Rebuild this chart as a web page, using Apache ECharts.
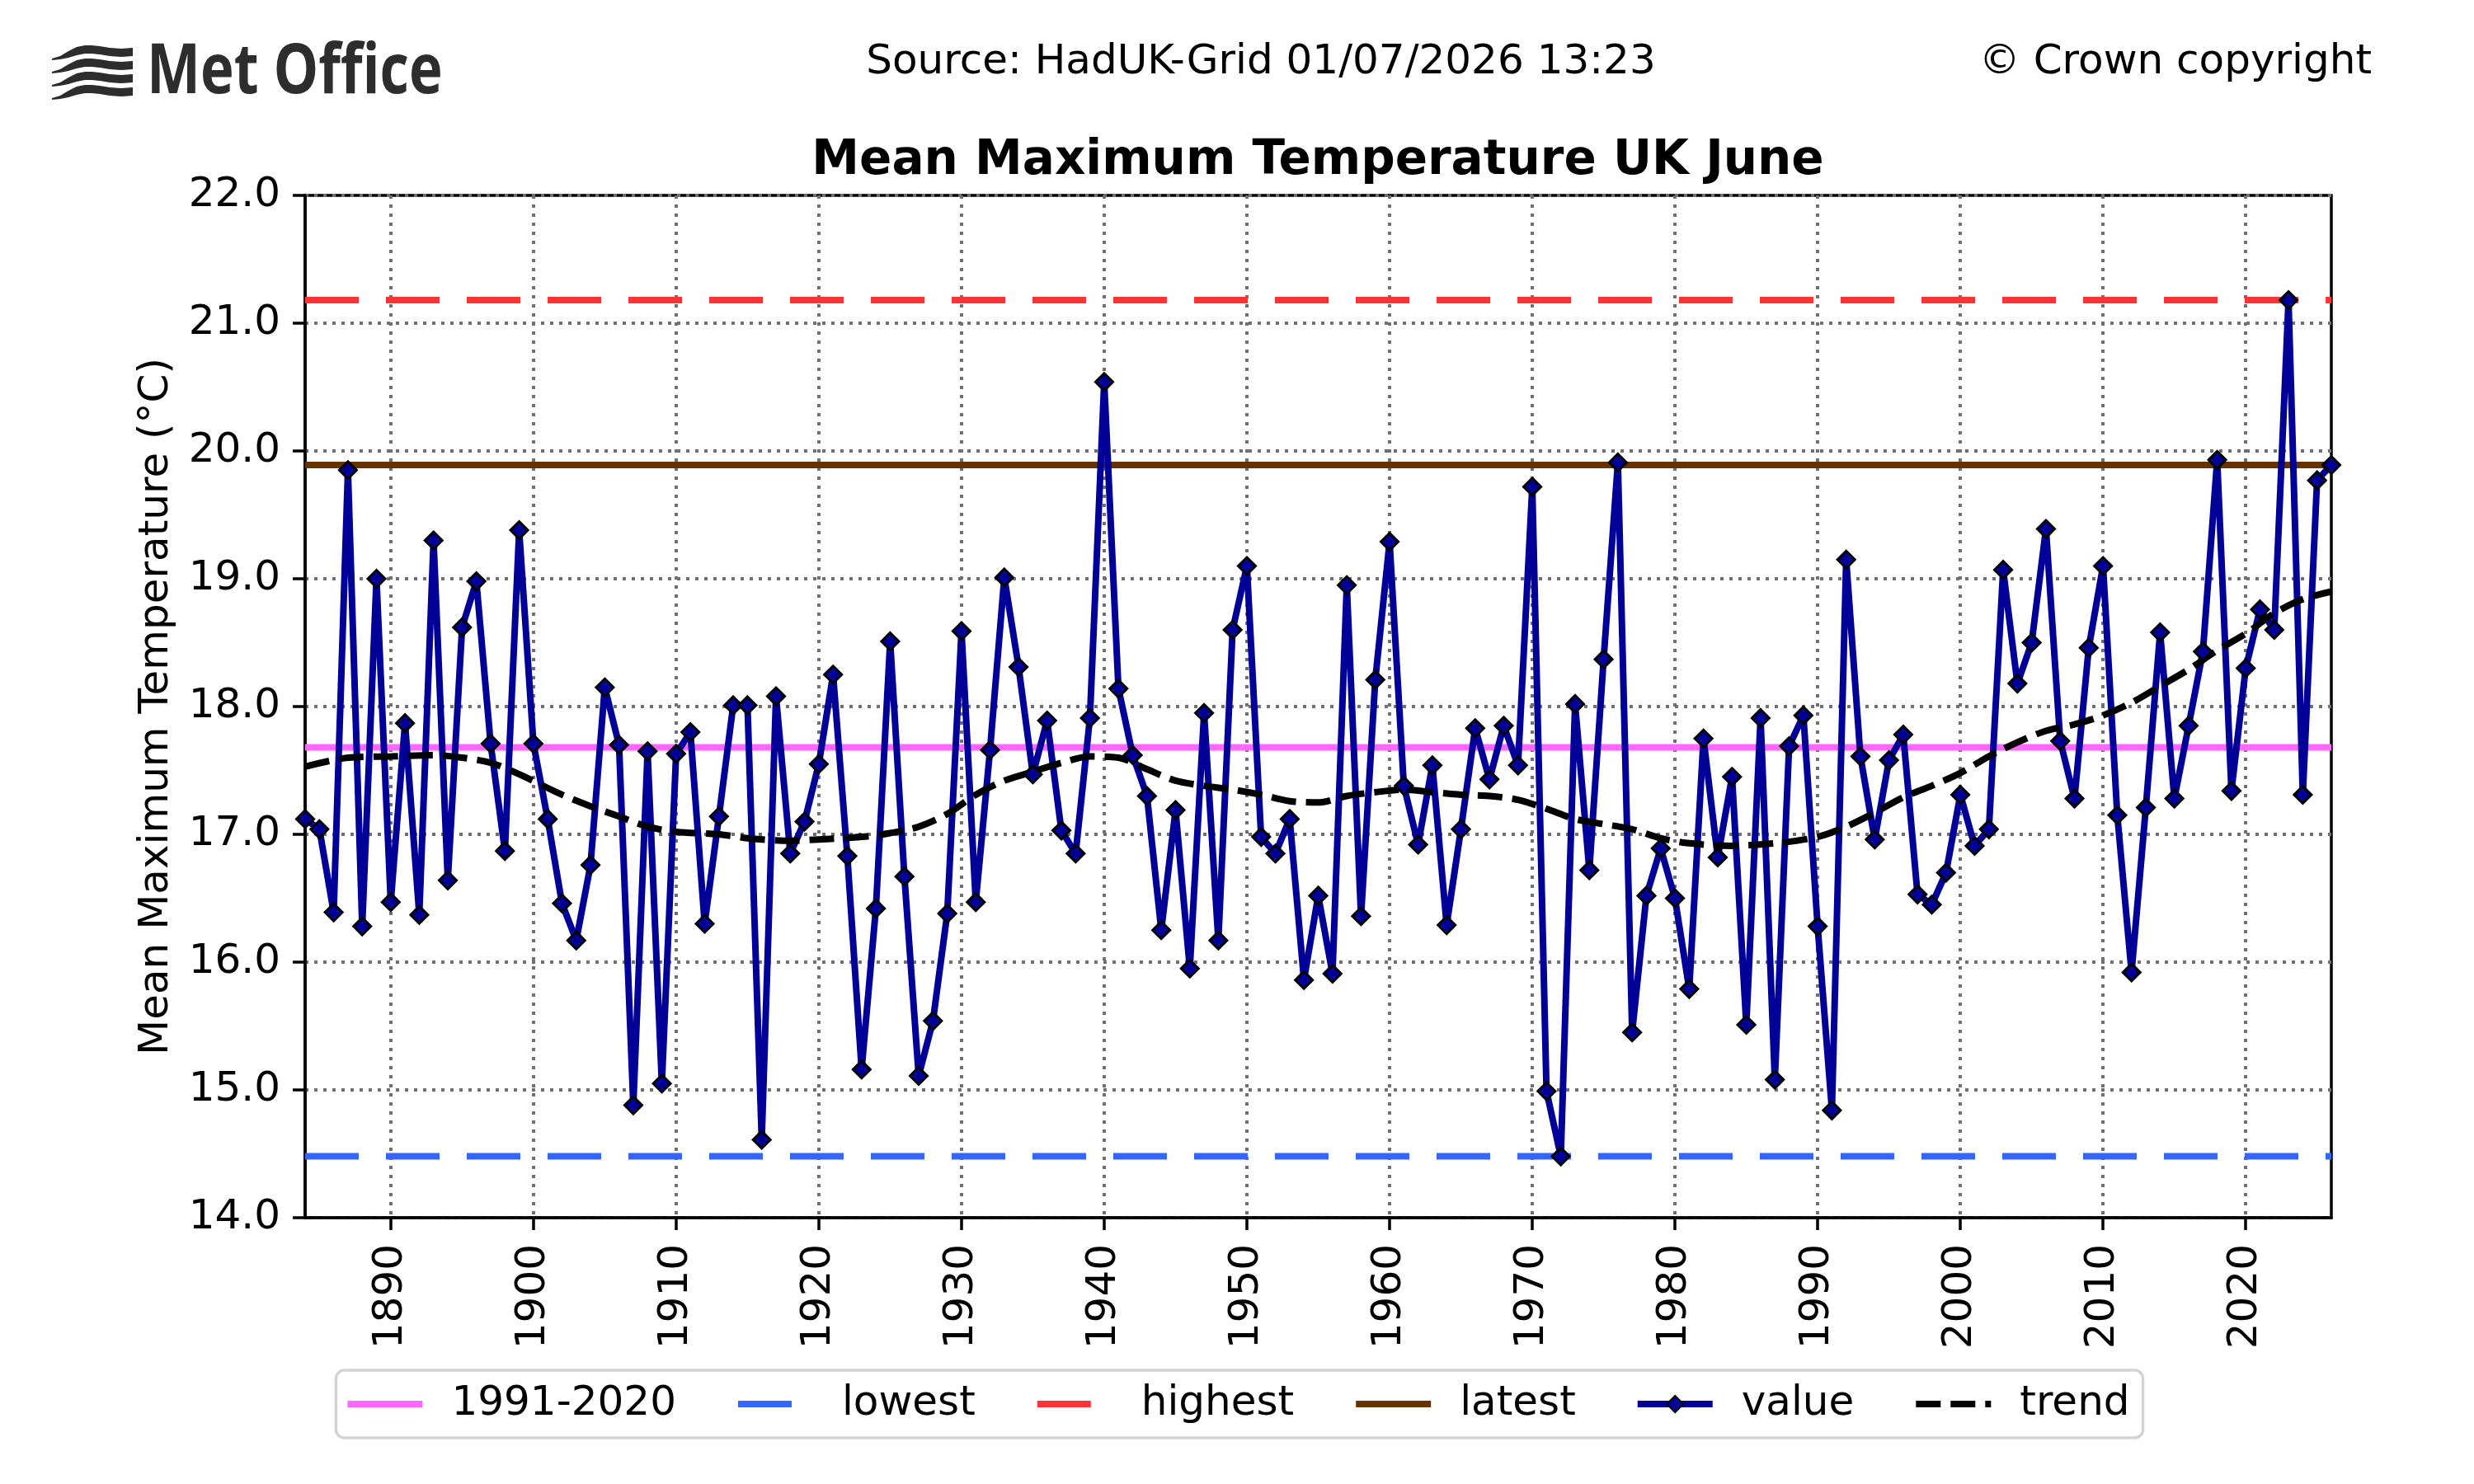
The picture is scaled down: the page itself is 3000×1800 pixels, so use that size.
<!DOCTYPE html>
<html>
<head>
<meta charset="utf-8">
<title>Mean Maximum Temperature UK June</title>
<script src="https://cdn.jsdelivr.net/npm/echarts@6/dist/echarts.min.js"></script>
<style>
  html, body { margin: 0; padding: 0; background: #fff; }
  #chart { width: 3000px; height: 1800px; }
</style>
</head>
<body>
<div id="chart"></div>
<script>
// June mean max temperature, UK, one value per year from 1884
const firstYear = 1884;
const values = [
  17.12, 17.04, 16.39, 19.85, 16.28, 19.00,                         // 1884-1889
  16.47, 17.87, 16.37, 19.30, 16.64, 18.62, 18.98, 17.71, 16.87, 19.38, // 1890s
  17.71, 17.12, 16.46, 16.17, 16.76, 18.15, 17.70, 14.88, 17.65, 15.05, // 1900s
  17.63, 17.80, 16.30, 17.14, 18.01, 18.01, 14.61, 18.08, 16.85, 17.10, // 1910s
  17.55, 18.25, 16.83, 15.16, 16.42, 18.51, 16.67, 15.11, 15.54, 16.38, // 1920s
  18.59, 16.47, 17.66, 19.01, 18.31, 17.47, 17.89, 17.03, 16.85, 17.91, // 1930s
  20.54, 18.14, 17.62, 17.30, 16.25, 17.19, 15.95, 17.95, 16.17, 18.60, // 1940s
  19.10, 16.98, 16.85, 17.12, 15.86, 16.52, 15.91, 18.95, 16.36, 18.21, // 1950s
  19.29, 17.38, 16.92, 17.54, 16.29, 17.04, 17.83, 17.43, 17.85, 17.54, // 1960s
  19.72, 14.99, 14.48, 18.02, 16.72, 18.37, 19.91, 15.45, 16.52, 16.89, // 1970s
  16.50, 15.79, 17.75, 16.82, 17.45, 15.51, 17.91, 15.08, 17.69, 17.93, // 1980s
  16.28, 14.84, 19.15, 17.61, 16.96, 17.58, 17.78, 16.53, 16.45, 16.70, // 1990s
  17.31, 16.91, 17.04, 19.07, 18.18, 18.50, 19.39, 17.73, 17.28, 18.46, // 2000s
  19.10, 17.15, 15.92, 17.21, 18.58, 17.28, 17.85, 18.43, 19.93, 17.34, // 2010s
  18.30, 18.76, 18.60, 21.18, 17.31, 19.77, 19.89                       // 2020-2026
];

// smoothed trend
const trendYears = [1884, 1887, 1890, 1893, 1895, 1897, 1899, 1902, 1904, 1906, 1908, 1910,
  1913, 1915, 1918, 1920, 1923, 1925, 1927, 1929, 1931, 1933, 1935, 1937, 1939, 1941, 1943,
  1945, 1947, 1949, 1951, 1953, 1955, 1957, 1959, 1961, 1963, 1965, 1967, 1969, 1971, 1973,
  1975, 1977, 1979, 1981, 1984, 1987, 1990, 1992, 1994, 1996, 1998, 2000, 2002, 2004, 2006,
  2008, 2010, 2012, 2014, 2016, 2018, 2020, 2022, 2024, 2026];
const trendValues = [17.53, 17.60, 17.61, 17.62, 17.60, 17.56, 17.47, 17.31, 17.22, 17.14, 17.06, 17.02,
  17.00, 16.97, 16.95, 16.96, 16.98, 17.01, 17.06, 17.16, 17.31, 17.42, 17.49, 17.56, 17.61, 17.60, 17.51,
  17.42, 17.38, 17.35, 17.31, 17.26, 17.25, 17.30, 17.33, 17.35, 17.33, 17.31, 17.30, 17.27, 17.20, 17.12,
  17.08, 17.04, 16.97, 16.93, 16.91, 16.93, 16.98, 17.06, 17.17, 17.29, 17.38, 17.48, 17.61, 17.72, 17.81,
  17.86, 17.93, 18.03, 18.16, 18.29, 18.44, 18.57, 18.73, 18.84, 18.90];

const average = 17.68;   // 1991-2020
const lowest = 14.48;
const highest = 21.18;
const latest = 19.89;

const yearTicks = [1890, 1900, 1910, 1920, 1930, 1940, 1950, 1960, 1970, 1980, 1990, 2000, 2010, 2020];
const xMin = 1884, xMax = 2026;

const FONT = "DejaVu Sans";
const chart = echarts.init(document.getElementById("chart"));

const valueData = values.map((v, i) => [firstYear + i, v]);
const trendData = trendYears.map((y, i) => [y, trendValues[i]]);
const flat = (v) => [[xMin, v], [xMax, v]];

function hline(name, v, color, dash) {
  return {
    name: name,
    type: "line",
    data: flat(v),
    symbol: "none",
    silent: true,
    itemStyle: { color: color },
    lineStyle: { color: color, width: 8, type: dash || "solid", cap: "butt" },
  };
}

// logo waves (one band outline, repeated)
const bandShape = [[0, 16], [10, 13], [20, 7], [30, 2], [40, 0], [48, 0], [58, 1], [70, 3], [84, 4], [98, 3],
  [98, 13], [84, 14], [70, 13], [58, 11], [48, 10], [40, 10], [30, 12], [20, 15], [10, 17], [0, 18]];
const waves = [];
for (let i = 0; i < 4; i++) {
  waves.push({
    type: "polygon",
    x: 63,
    y: 55 + i * 16,
    shape: { points: bandShape },
    style: { fill: "#2d2d2d" },
  });
}

const options = {
  animation: false,
  backgroundColor: "#ffffff",
  textStyle: { fontFamily: FONT },
  graphic: [
    ...waves,
    {
      type: "text", x: 178, y: 89, scaleX: 0.82,
      style: { text: "Met Office", font: 'bold 84px "Open Sans"', fill: "#2d2d2d", textVerticalAlign: "middle" },
    },
    {
      type: "text", x: 1529, y: 76,
      style: { text: "Source: HadUK-Grid 01/07/2026 13:23", font: '50px "DejaVu Sans"', fill: "#000", textAlign: "center", textVerticalAlign: "middle" },
    },
    {
      type: "text", x: 2876, y: 76,
      style: { text: "© Crown copyright", font: '50px "DejaVu Sans"', fill: "#000", textAlign: "right", textVerticalAlign: "middle" },
    },
    {
      type: "text", x: 1598, y: 196,
      style: { text: "Mean Maximum Temperature UK June", font: 'bold 58px "DejaVu Sans"', fill: "#000", textAlign: "center", textVerticalAlign: "middle" },
    },
  ],
  grid: {
    left: 370, right: 173, top: 237, bottom: 323,
    show: true, borderColor: "#000", borderWidth: 3.5,
    outerBoundsMode: "none",
  },
  legend: {
    top: 1662,
    left: "center",
    itemWidth: 91,
    itemHeight: 25,
    itemGap: 71,
    padding: [13, 16, 13, 10],
    borderColor: "#d3d3d3",
    borderWidth: 3.4,
    borderRadius: 10,
    backgroundColor: "#fff",
    lineStyle: { width: 8 },
    textStyle: { fontSize: 50, color: "#000", fontFamily: FONT, padding: [0, 0, 0, 30], lineHeight: 56 },
    data: [
      { name: "1991-2020", itemStyle: { opacity: 0 } },
      { name: "lowest", itemStyle: { opacity: 0 } },
      { name: "highest", itemStyle: { opacity: 0 } },
      { name: "latest", itemStyle: { opacity: 0 } },
      { name: "value" },
      { name: "trend", itemStyle: { opacity: 0 } },
    ],
  },
  xAxis: {
    type: "value",
    min: xMin,
    max: xMax,
    splitNumber: 14,
    minInterval: 10,
    maxInterval: 10,
    axisLine: { show: true, lineStyle: { color: "#000", width: 3.5 } },
    axisTick: { show: true, inside: false, length: 15, customValues: yearTicks, lineStyle: { color: "#000", width: 3.5 } },
    axisLabel: {
      customValues: yearTicks,
      rotate: 90,
      margin: 32,
      fontSize: 50,
      color: "#000",
      fontFamily: FONT,
      formatter: (v) => String(v),
    },
    splitLine: { show: true, lineStyle: { color: "#707070", width: 4, type: [4, 7] } },
  },
  yAxis: {
    type: "value",
    min: 14,
    max: 22,
    interval: 1,
    name: "Mean Maximum Temperature (°C)",
    nameLocation: "middle",
    nameGap: 155,
    nameRotate: 90,
    nameTextStyle: { fontSize: 50, color: "#000", fontFamily: FONT },
    axisLine: { show: true, lineStyle: { color: "#000", width: 3.5 } },
    axisTick: { show: true, inside: false, length: 15, lineStyle: { color: "#000", width: 3.5 } },
    axisLabel: { margin: 30, fontSize: 50, color: "#000", fontFamily: FONT, formatter: (v) => v.toFixed(1) },
    splitLine: { show: true, lineStyle: { color: "#707070", width: 4, type: [4, 7] } },
  },
  series: [
    hline("1991-2020", average, "#FF66FF"),
    hline("lowest", lowest, "#3366FF", [65, 33]),
    hline("highest", highest, "#FF3333", [65, 33]),
    hline("latest", latest, "#663300"),
    {
      name: "value",
      type: "line",
      data: valueData,
      symbol: "diamond",
      symbolSize: 21,
      itemStyle: { color: "#000099", borderColor: "#000", borderWidth: 3 },
      lineStyle: { color: "#000099", width: 8, join: "round" },
    },
    {
      name: "trend",
      type: "line",
      data: trendData,
      symbol: "none",
      smooth: 0.3,
      itemStyle: { color: "#000" },
      lineStyle: { color: "#000", width: 8, type: [30, 12] },
    },
  ],
};

chart.setOption(options);
</script>
</body>
</html>
